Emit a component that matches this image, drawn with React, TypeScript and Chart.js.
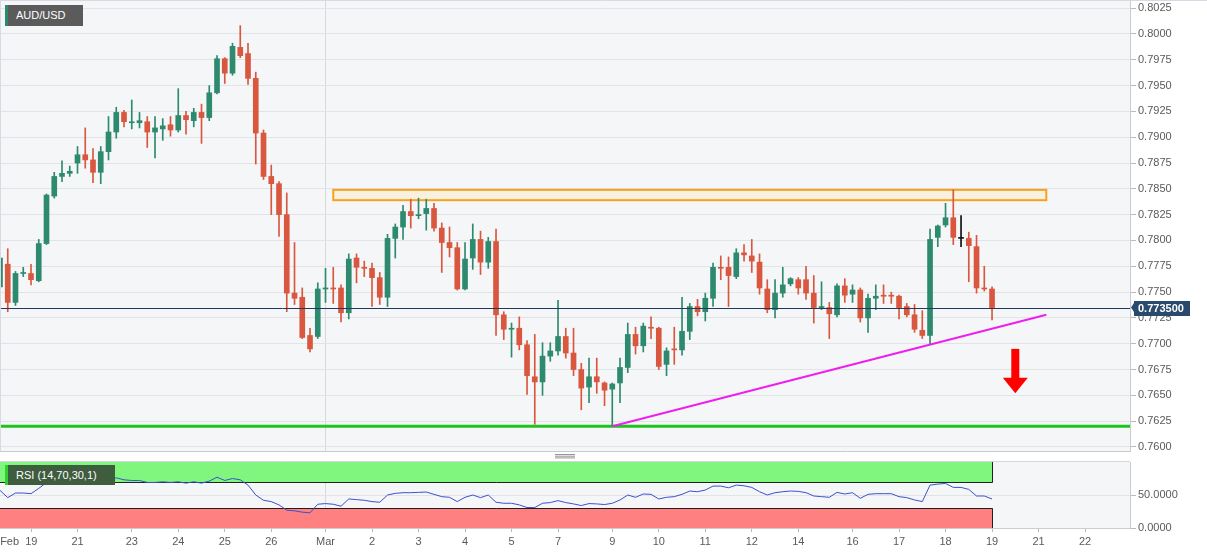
import React, { useEffect, useRef } from 'react';
import { Chart, registerables } from 'chart.js';

Chart.register(...registerables);

const FONT = "'Liberation Sans', Arial, Helvetica, sans-serif";
Chart.defaults.font.family = FONT;
Chart.defaults.font.size = 11;

// ---- 4-hour AUD/USD candles (index = candle number) ----
const OPEN = [
  0.7755, 0.7777, 0.7740, 0.7768, 0.7768, 0.7761, 0.7797, 0.7843, 0.7862, 0.7865,
  0.7875, 0.7883, 0.7878, 0.7866, 0.7886, 0.7905, 0.7924, 0.7914, 0.7914, 0.7915,
  0.7905, 0.7908, 0.7912, 0.7907, 0.7921, 0.7916, 0.7924, 0.7919, 0.7943, 0.7976,
  0.7962, 0.7987, 0.7981, 0.7957, 0.7904, 0.7862, 0.7855, 0.7825, 0.7749, 0.7745,
  0.7708, 0.7707, 0.7753, 0.7754, 0.7754, 0.7730, 0.7783, 0.7774, 0.7773, 0.7764,
  0.7745, 0.7802, 0.7813, 0.7828, 0.7824, 0.7826, 0.7831, 0.7812, 0.7798, 0.7793,
  0.7753, 0.7783, 0.7801, 0.7779, 0.7799, 0.7728, 0.7714, 0.7715, 0.7699, 0.7668,
  0.7663, 0.7688, 0.7693, 0.7707, 0.7691, 0.7675, 0.7658, 0.7668, 0.7662, 0.7656,
  0.7662, 0.7677, 0.7709, 0.7698, 0.7716, 0.7715, 0.7680, 0.7695, 0.7694, 0.7712,
  0.7736, 0.7731, 0.7744, 0.7774, 0.7774, 0.7765, 0.7788, 0.7785, 0.7779, 0.7753,
  0.7733, 0.7749, 0.7758, 0.7762, 0.7762, 0.7749, 0.7735, 0.7735, 0.7728, 0.7756,
  0.7748, 0.7752, 0.7725, 0.7744, 0.7747, 0.7747, 0.7746, 0.7736, 0.7728, 0.7713,
  0.7708, 0.7803, 0.7815, 0.7822, 0.7802, 0.7802, 0.7794, 0.7754, 0.7753,
];
const HIGH = [
  0.7786, 0.7792, 0.7770, 0.7774, 0.7777, 0.7801, 0.7845, 0.7866, 0.7877, 0.7872,
  0.7891, 0.7909, 0.7889, 0.7891, 0.7920, 0.7929, 0.7926, 0.7936, 0.7924, 0.7920,
  0.7920, 0.7918, 0.7920, 0.7947, 0.7925, 0.7928, 0.7932, 0.7950, 0.7979, 0.7977,
  0.7991, 0.8008, 0.7991, 0.7963, 0.7907, 0.7873, 0.7857, 0.7846, 0.7798, 0.7754,
  0.7715, 0.7759, 0.7773, 0.7774, 0.7757, 0.7787, 0.7787, 0.7780, 0.7778, 0.7769,
  0.7806, 0.7816, 0.7834, 0.7840, 0.7841, 0.7840, 0.7836, 0.7817, 0.7813, 0.7798,
  0.7798, 0.7816, 0.7809, 0.7803, 0.7811, 0.7731, 0.7720, 0.7726, 0.7703, 0.7709,
  0.7701, 0.7701, 0.7742, 0.7715, 0.7715, 0.7681, 0.7686, 0.7686, 0.7663, 0.7662,
  0.7686, 0.7720, 0.7716, 0.7720, 0.7726, 0.7716, 0.7696, 0.7716, 0.7745, 0.7739,
  0.7743, 0.7749, 0.7778, 0.7785, 0.7784, 0.7792, 0.7796, 0.7801, 0.7787, 0.7762,
  0.7762, 0.7774, 0.7764, 0.7764, 0.7775, 0.7766, 0.7760, 0.7740, 0.7758, 0.7763,
  0.7757, 0.7754, 0.7748, 0.7757, 0.7757, 0.7750, 0.7747, 0.7739, 0.7738, 0.7732,
  0.7811, 0.7815, 0.7836, 0.7849, 0.7824, 0.7808, 0.7805, 0.7775, 0.7755,
];
const LOW = [
  0.7752, 0.7731, 0.7737, 0.7765, 0.7757, 0.7760, 0.7796, 0.7841, 0.7857, 0.7862,
  0.7865, 0.7870, 0.7856, 0.7855, 0.7878, 0.7899, 0.7910, 0.7908, 0.7909, 0.7890,
  0.7880, 0.7897, 0.7901, 0.7905, 0.7903, 0.7910, 0.7894, 0.7916, 0.7942, 0.7952,
  0.7960, 0.7977, 0.7951, 0.7874, 0.7859, 0.7825, 0.7804, 0.7731, 0.7738, 0.7705,
  0.7692, 0.7705, 0.7740, 0.7739, 0.7721, 0.7724, 0.7759, 0.7765, 0.7736, 0.7738,
  0.7736, 0.7783, 0.7801, 0.7812, 0.7821, 0.7810, 0.7809, 0.7769, 0.7784, 0.7752,
  0.7752, 0.7772, 0.7767, 0.7773, 0.7708, 0.7704, 0.7687, 0.7694, 0.7651, 0.7622,
  0.7650, 0.7683, 0.7689, 0.7686, 0.7669, 0.7636, 0.7643, 0.7652, 0.7640, 0.7620,
  0.7643, 0.7672, 0.7690, 0.7692, 0.7705, 0.7675, 0.7669, 0.7680, 0.7689, 0.7704,
  0.7727, 0.7722, 0.7736, 0.7762, 0.7736, 0.7763, 0.7780, 0.7769, 0.7748, 0.7730,
  0.7725, 0.7745, 0.7756, 0.7748, 0.7743, 0.7720, 0.7733, 0.7705, 0.7726, 0.7740,
  0.7740, 0.7721, 0.7711, 0.7733, 0.7739, 0.7739, 0.7724, 0.7726, 0.7711, 0.7705,
  0.7700, 0.7794, 0.7813, 0.7796, 0.7794, 0.7760, 0.7749, 0.7751, 0.7723,
];
const CLOSE = [
  0.7783, 0.7740, 0.7768, 0.7769, 0.7762, 0.7797, 0.7844, 0.7862, 0.7865, 0.7867,
  0.7883, 0.7878, 0.7866, 0.7886, 0.7905, 0.7924, 0.7915, 0.7915, 0.7916, 0.7905,
  0.7909, 0.7911, 0.7907, 0.7921, 0.7917, 0.7924, 0.7919, 0.7943, 0.7976, 0.7962,
  0.7988, 0.7979, 0.7957, 0.7904, 0.7862, 0.7855, 0.7825, 0.7749, 0.7744, 0.7706,
  0.7695, 0.7753, 0.7754, 0.7753, 0.7730, 0.7782, 0.7774, 0.7773, 0.7764, 0.7745,
  0.7802, 0.7813, 0.7828, 0.7824, 0.7825, 0.7831, 0.7812, 0.7798, 0.7793, 0.7753,
  0.7782, 0.7801, 0.7779, 0.7799, 0.7728, 0.7714, 0.7715, 0.7699, 0.7669, 0.7663,
  0.7688, 0.7693, 0.7707, 0.7691, 0.7675, 0.7657, 0.7668, 0.7663, 0.7655, 0.7661,
  0.7677, 0.7709, 0.7698, 0.7717, 0.7715, 0.7678, 0.7693, 0.7694, 0.7712, 0.7736,
  0.7731, 0.7744, 0.7774, 0.7773, 0.7766, 0.7788, 0.7786, 0.7780, 0.7754, 0.7733,
  0.7749, 0.7757, 0.7763, 0.7754, 0.7749, 0.7735, 0.7736, 0.7729, 0.7756, 0.7747,
  0.7752, 0.7725, 0.7744, 0.7746, 0.7746, 0.7746, 0.7735, 0.7728, 0.7714, 0.7708,
  0.7801, 0.7814, 0.7822, 0.7803, 0.7802, 0.7795, 0.7754, 0.7753, 0.7735,
];

// RSI (14) per candle
const RSI_VALUES = [
  57, 46, 53, 53, 52, 60, 69, 73, 74, 75,
  76, 73, 68, 71, 73, 76, 73, 72, 72, 69,
  69, 70, 69, 70, 68, 70, 68, 71, 77, 72,
  75, 73, 65, 50, 42, 40, 35, 27, 26, 24,
  23, 36, 37, 36, 33, 44, 43, 42, 40, 39,
  50, 52.5, 53.5, 53.5, 54, 54.5, 51, 47.5, 46.5, 40,
  46.5, 50, 46, 50, 39, 37.5, 37.5, 35, 31, 31,
  37.5, 38.5, 41.5, 38.5, 36.5, 34, 37, 36.5, 35.5, 37.5,
  42.5, 50, 46.5, 51.5, 51, 44, 46.5, 47.5, 51, 56,
  55, 57.5, 63.5, 63.5, 61, 65, 64, 61.5, 55, 50,
  53.5, 55, 56, 55.5, 53.5, 48.5, 47.5, 46.5, 54, 51.5,
  53.5, 45, 51, 52, 52, 52, 47.5, 46, 42.5, 40,
  65, 66.5, 67.5, 61.5, 61.5, 58.5, 48.5, 48.5, 44,
];
const RSI_UPPER = 70;
const RSI_LOWER = 30;

// axis ticks
const X_TICK_POSITIONS = [4, 10, 17, 23, 29, 35, 42, 48, 54, 60, 66, 72, 79, 85, 91, 97, 103, 110, 116, 122, 128, 134, 140];
const X_TICK_LABELS = [
  'Feb  19' + '\u00a0'.repeat(8), '21', '23', '24', '25', '26', 'Mar', '2', '3', '4', '5', '7', '9',
  '10', '11', '12', '14', '16', '17', '18', '19', '21', '22',
];
const MONTH_START = 42;
const PRICE_TICKS = [
  0.76, 0.7625, 0.765, 0.7675, 0.77, 0.7725, 0.775, 0.7775, 0.78,
  0.7825, 0.785, 0.7875, 0.79, 0.7925, 0.795, 0.7975, 0.8, 0.8025,
];
const RSI_TICKS = [0, 50];

// axis ranges
const X_MIN = 0;
const X_MAX = 145.8;
const Y_MIN = 0.75961;
const Y_MAX = 0.80319;

// annotations (data units)
const LAST_PRICE = 0.7735;
const SUPPORT_LEVEL = 0.762;
const ZONE_FROM = 43;
const ZONE_TO = 135;
const ZONE_LOW = 0.7839;
const ZONE_HIGH = 0.7849;
const TREND_X = [79, 135];
const TREND_Y = [0.762, 0.7728];
const ARROW_X = 131;
const ARROW_TOP = 0.7695;
const ARROW_HEAD = 0.7667;
const ARROW_TIP = 0.7652;

// colours
const UP = '#2e8a6e';
const DOWN = '#d9573f';
const DOJI = '#111111';
const PLOT_BG = '#f5f6f7';
const GRID = '#e2e3e6';
const AXIS_TEXT = '#5a5a5a';

const candleColor = (i: number) => (CLOSE[i] > OPEN[i] ? UP : CLOSE[i] < OPEN[i] ? DOWN : DOJI);

const setTicks = (values: number[]) => (scale: any) => {
  scale.ticks = values.map((v) => ({ value: v }));
};

const mainDecor = {
  id: 'mainDecor',
  beforeDraw(chart: any) {
    const { ctx, chartArea: a } = chart;
    ctx.save();
    ctx.fillStyle = PLOT_BG;
    ctx.fillRect(a.left, a.top, a.right - a.left, a.bottom - a.top);
    ctx.restore();
  },
  beforeDatasetsDraw(chart: any) {
    const { ctx, chartArea: a, scales } = chart;
    const x = scales.x;
    const y = scales.y;
    const x0 = x.getPixelForValue(ZONE_FROM);
    const x1 = x.getPixelForValue(ZONE_TO);
    const yT = y.getPixelForValue(ZONE_HIGH);
    const yB = y.getPixelForValue(ZONE_LOW);
    ctx.save();
    ctx.beginPath();
    ctx.rect(a.left, a.top, a.right - a.left, a.bottom - a.top);
    ctx.clip();
    ctx.fillStyle = 'rgba(255, 236, 196, 0.45)';
    ctx.fillRect(x0, yT, x1 - x0, yB - yT);
    ctx.strokeStyle = '#f6a21d';
    ctx.lineWidth = 2;
    ctx.strokeRect(x0, yT, x1 - x0, yB - yT);
    ctx.restore();
  },
  afterDatasetsDraw(chart: any) {
    const { ctx, chartArea: a, scales } = chart;
    const x = scales.x;
    const y = scales.y;
    ctx.save();
    // last price line
    const yp = Math.round(y.getPixelForValue(LAST_PRICE)) + 0.5;
    ctx.strokeStyle = '#1f3a5c';
    ctx.lineWidth = 1;
    ctx.beginPath();
    ctx.moveTo(a.left, yp);
    ctx.lineTo(a.right, yp);
    ctx.stroke();
    // red down arrow
    const ax = x.getPixelForValue(ARROW_X);
    const yTop = y.getPixelForValue(ARROW_TOP);
    const yHead = y.getPixelForValue(ARROW_HEAD);
    const yTip = y.getPixelForValue(ARROW_TIP);
    ctx.fillStyle = '#ff0000';
    ctx.fillRect(ax - 4, yTop, 8, yHead - yTop + 0.5);
    ctx.beginPath();
    ctx.moveTo(ax - 12.5, yHead);
    ctx.lineTo(ax + 12.5, yHead);
    ctx.lineTo(ax, yTip);
    ctx.closePath();
    ctx.fill();
    ctx.restore();
  },
  afterDraw(chart: any) {
    const { ctx, chartArea: a, scales, width } = chart;
    const y = scales.y;
    ctx.save();
    ctx.lineWidth = 1;
    ctx.strokeStyle = '#d7d9e5';
    ctx.beginPath();
    ctx.moveTo(0, 0.5);
    ctx.lineTo(width, 0.5);
    ctx.moveTo(0.5, a.top);
    ctx.lineTo(0.5, a.bottom);
    ctx.stroke();
    ctx.strokeStyle = '#c9cacd';
    ctx.beginPath();
    ctx.moveTo(0, a.bottom + 0.5);
    ctx.lineTo(a.right, a.bottom + 0.5);
    ctx.stroke();
    // last price label on the axis
    const yp = y.getPixelForValue(LAST_PRICE);
    const bx = a.right + 4;
    const bw = 56;
    const bh = 15;
    const by = Math.round(yp) - 7;
    ctx.fillStyle = '#294a6c';
    ctx.fillRect(bx, by, bw, bh);
    ctx.beginPath();
    ctx.moveTo(a.right + 1, yp);
    ctx.lineTo(bx, yp - 4.5);
    ctx.lineTo(bx, yp + 4.5);
    ctx.closePath();
    ctx.fill();
    ctx.fillStyle = '#ffffff';
    ctx.font = `bold 11px ${FONT}`;
    ctx.textAlign = 'left';
    ctx.textBaseline = 'middle';
    ctx.fillText(LAST_PRICE.toFixed(6), bx + 4, by + bh / 2 + 0.5);
    ctx.restore();
  },
};

const rsiDecor = {
  id: 'rsiDecor',
  beforeDraw(chart: any) {
    const { ctx, chartArea: a } = chart;
    ctx.save();
    ctx.fillStyle = PLOT_BG;
    ctx.fillRect(a.left, a.top, a.right - a.left, a.bottom - a.top);
    ctx.restore();
  },
  beforeDatasetsDraw(chart: any) {
    const { ctx, chartArea: a, scales } = chart;
    const x = scales.x;
    const y = scales.y;
    const xr = Math.round(x.getPixelForValue(RSI_VALUES.length - 1)) + 0.5;
    const y100 = y.getPixelForValue(100);
    const yU = Math.round(y.getPixelForValue(RSI_UPPER)) + 0.5;
    const yL = Math.round(y.getPixelForValue(RSI_LOWER)) + 0.5;
    const y0 = y.getPixelForValue(0);
    ctx.save();
    ctx.fillStyle = '#80f67f';
    ctx.fillRect(a.left, y100, xr - a.left, yU - y100);
    ctx.fillStyle = '#fe8080';
    ctx.fillRect(a.left, yL, xr - a.left, y0 - yL);
    ctx.strokeStyle = 'rgba(0,0,0,0.85)';
    ctx.lineWidth = 1;
    ctx.beginPath();
    ctx.moveTo(a.left, yU);
    ctx.lineTo(xr, yU);
    ctx.moveTo(a.left, yL);
    ctx.lineTo(xr, yL);
    ctx.moveTo(xr, y100);
    ctx.lineTo(xr, yU);
    ctx.moveTo(xr, yL);
    ctx.lineTo(xr, y0);
    ctx.stroke();
    ctx.restore();
  },
  afterDraw(chart: any) {
    const { ctx, chartArea: a } = chart;
    ctx.save();
    ctx.strokeStyle = '#d5d6da';
    ctx.lineWidth = 1;
    ctx.beginPath();
    ctx.moveTo(0, a.top - 0.5);
    ctx.lineTo(a.right, a.top - 0.5);
    ctx.stroke();
    // resize handle
    const cx = (a.left + a.right) / 2;
    ctx.strokeStyle = '#8a8a8a';
    ctx.lineWidth = 0.9;
    ctx.beginPath();
    [1.5, 3.2, 4.9].forEach((yy) => {
      ctx.moveTo(cx - 10, yy);
      ctx.lineTo(cx + 10, yy);
    });
    ctx.stroke();
    ctx.restore();
  },
};

const monthGrid = (c: any) => (c.tick && c.tick.value === MONTH_START ? '#d8d9dc' : 'rgba(0,0,0,0)');

function buildMainConfig(): any {
  const colors = OPEN.map((_, i) => candleColor(i));
  return {
    type: 'bar',
    data: {
      datasets: [
        {
          type: 'line',
          label: 'Trend line',
          data: TREND_X.map((xv, i) => ({ x: xv, y: TREND_Y[i] })),
          borderColor: '#ee1fee',
          borderWidth: 2,
          pointRadius: 0,
          order: 0,
        },
        {
          type: 'bar',
          label: 'Body',
          data: OPEN.map((o, i) => ({ x: i, y: [o, CLOSE[i]] })),
          backgroundColor: colors,
          barThickness: 5,
          minBarLength: 1,
          grouped: false,
          order: 1,
        },
        {
          type: 'bar',
          label: 'Wick',
          data: LOW.map((l, i) => ({ x: i, y: [l, HIGH[i]] })),
          backgroundColor: colors,
          barThickness: 1,
          grouped: false,
          order: 2,
        },
        {
          type: 'line',
          label: 'Support',
          data: [
            { x: X_MIN, y: SUPPORT_LEVEL },
            { x: X_MAX, y: SUPPORT_LEVEL },
          ],
          borderColor: '#1ec31e',
          borderWidth: 3,
          pointRadius: 0,
          order: 3,
        },
      ],
    },
    options: {
      animation: false,
      responsive: false,
      devicePixelRatio: 1,
      layout: { padding: { top: 1, bottom: 2, left: 0, right: 0 } },
      plugins: { legend: { display: false }, tooltip: { enabled: false } },
      scales: {
        x: {
          type: 'linear',
          offset: false,
          min: X_MIN,
          max: X_MAX,
          afterBuildTicks: setTicks(X_TICK_POSITIONS),
          afterFit: (s: any) => {
            s.height = 0;
            s.paddingLeft = 0;
            s.paddingRight = 0;
          },
          ticks: { display: false },
          grid: { drawTicks: false, offset: false, color: monthGrid },
          border: { display: false },
        },
        y: {
          type: 'linear',
          position: 'right',
          min: Y_MIN,
          max: Y_MAX,
          afterBuildTicks: setTicks(PRICE_TICKS),
          afterFit: (s: any) => {
            s.width = 77;
            s.paddingTop = 0;
            s.paddingBottom = 0;
          },
          ticks: {
            autoSkip: false,
            padding: 2,
            color: AXIS_TEXT,
            font: { size: 11 },
            callback: (v: any) => Number(v).toFixed(4),
          },
          grid: { color: GRID, tickColor: '#b9babd', tickLength: 6 },
          border: { color: '#cbccd0' },
        },
      },
    },
    plugins: [mainDecor],
  };
}

function buildRsiConfig(): any {
  return {
    type: 'line',
    data: {
      datasets: [
        {
          label: 'RSI',
          data: RSI_VALUES.map((v, i) => ({ x: i, y: v })),
          borderColor: '#3c52cc',
          borderWidth: 1,
          pointRadius: 0,
          tension: 0,
        },
      ],
    },
    options: {
      animation: false,
      responsive: false,
      devicePixelRatio: 1,
      layout: { padding: { top: 9, bottom: 0, left: 0, right: 0 } },
      plugins: { legend: { display: false }, tooltip: { enabled: false } },
      scales: {
        x: {
          type: 'linear',
          offset: false,
          min: X_MIN,
          max: X_MAX,
          afterBuildTicks: setTicks(X_TICK_POSITIONS),
          afterFit: (s: any) => {
            s.height = 27;
            s.paddingLeft = 0;
            s.paddingRight = 0;
          },
          ticks: {
            autoSkip: false,
            maxRotation: 0,
            minRotation: 0,
            padding: 3,
            color: AXIS_TEXT,
            font: { size: 11 },
            callback: (v: any) => {
              const k = X_TICK_POSITIONS.indexOf(Number(v));
              return k >= 0 ? X_TICK_LABELS[k] : '';
            },
          },
          grid: { color: monthGrid, tickColor: '#b9babd', tickLength: 4 },
          border: { color: '#cbccd0' },
        },
        y: {
          type: 'linear',
          position: 'right',
          min: 0,
          max: 100,
          afterBuildTicks: setTicks(RSI_TICKS),
          afterFit: (s: any) => {
            s.width = 77;
            s.paddingTop = 0;
            s.paddingBottom = 0;
          },
          ticks: {
            autoSkip: false,
            padding: 2,
            color: AXIS_TEXT,
            font: { size: 11 },
            callback: (v: any) => Number(v).toFixed(4),
          },
          grid: { color: GRID, tickColor: '#b9babd', tickLength: 6 },
          border: { color: '#cbccd0' },
        },
      },
    },
    plugins: [rsiDecor],
  };
}

export default function App() {
  const mainRef = useRef<HTMLCanvasElement>(null);
  const rsiRef = useRef<HTMLCanvasElement>(null);

  useEffect(() => {
    const main = new Chart(mainRef.current as HTMLCanvasElement, buildMainConfig());
    const rsi = new Chart(rsiRef.current as HTMLCanvasElement, buildRsiConfig());
    return () => {
      main.destroy();
      rsi.destroy();
    };
  }, []);

  const tag: React.CSSProperties = {
    position: 'absolute',
    boxSizing: 'border-box',
    color: '#ffffff',
    font: `11px ${FONT}`,
    paddingLeft: 8,
    whiteSpace: 'nowrap',
  };

  return (
    <div style={{ position: 'absolute', left: 0, top: 0, width: 1207, height: 555, background: '#ffffff', overflow: 'hidden' }}>
      <canvas ref={mainRef} width={1207} height={453} style={{ position: 'absolute', left: 0, top: 0 }} />
      <canvas ref={rsiRef} width={1207} height={102} style={{ position: 'absolute', left: 0, top: 453 }} />
      <div style={{ ...tag, left: 5, top: 5, width: 78, height: 21, lineHeight: '21px', background: '#5b5b5b', borderLeft: '3px solid #2c8a6c' }}>
        AUD/USD
      </div>
      <div style={{ ...tag, left: 5, top: 465, width: 110, height: 20, lineHeight: '20px', background: '#3e5c3e', borderLeft: '3px solid #2fd12f' }}>
        RSI (14,70,30,1)
      </div>
    </div>
  );
}
